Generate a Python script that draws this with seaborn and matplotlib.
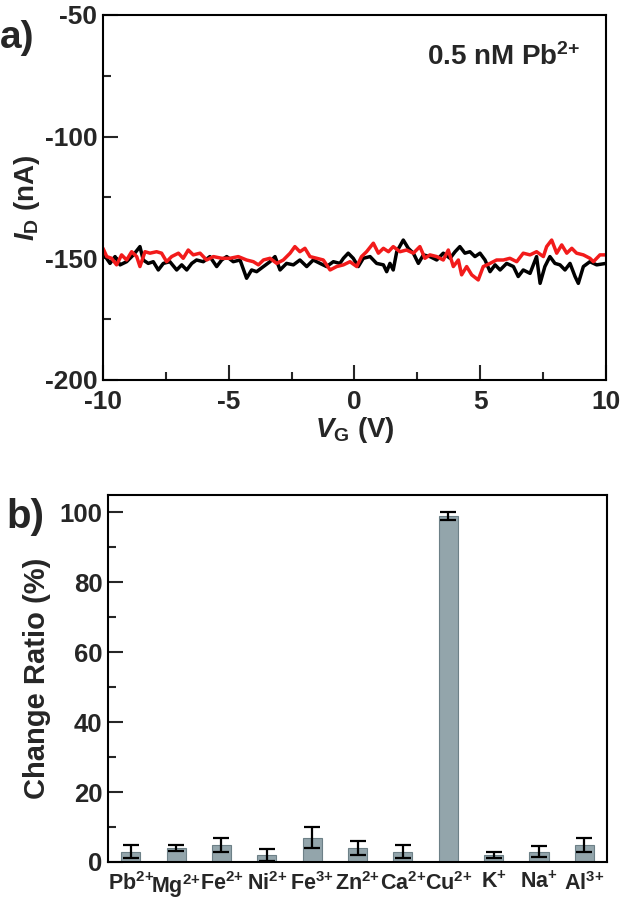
import numpy as np
import pandas as pd
import matplotlib
matplotlib.use("Agg")
import matplotlib.pyplot as plt
from matplotlib.ticker import MultipleLocator
import seaborn as sns

# ---------------- data ----------------
vg_black = [-10.00, -9.72, -9.52, -9.32, -9.06, -8.79, -8.53, -8.40, -8.20, -8.00,
            -7.80, -7.60, -7.34, -7.07, -6.87, -6.67, -6.47, -6.28, -6.01, -5.75,
            -5.48, -5.28, -5.08, -4.82, -4.55, -4.29, -4.09, -3.89, -3.62, -3.36,
            -3.16, -2.96, -2.70, -2.43, -2.17, -1.90, -1.64, -1.37, -1.11, -0.84,
            -0.58, -0.44, -0.25, -0.05, 0.15, 0.35, 0.62, 0.88, 1.15, 1.28,
            1.41, 1.54, 1.68, 1.94, 2.14, 2.34, 2.54, 2.74, 3.00, 3.27,
            3.53, 3.80, 4.00, 4.19, 4.39, 4.59, 4.79, 4.99, 5.19, 5.39,
            5.59, 5.79, 6.05, 6.32, 6.51, 6.71, 6.98, 7.24, 7.38, 7.57,
            7.77, 7.97, 8.17, 8.37, 8.57, 8.77, 8.90, 9.10, 9.36, 9.63, 10.00]
id_black = [-147.9, -152.1, -149.3, -152.7, -151.4, -148.6, -145.2, -150.7, -152.1, -151.4,
            -154.8, -152.1, -151.4, -154.8, -152.7, -154.8, -152.1, -150.7, -151.4, -149.3,
            -153.4, -150.7, -149.3, -151.4, -150.7, -158.2, -154.8, -155.5, -153.4, -151.4,
            -149.3, -154.8, -152.1, -152.7, -150.7, -153.4, -150.7, -152.1, -153.4, -151.4,
            -152.1, -150.0, -147.9, -150.0, -153.4, -150.0, -149.3, -152.1, -152.7, -155.5,
            -152.1, -154.8, -147.3, -142.5, -145.9, -147.9, -152.1, -148.6, -149.3, -150.7,
            -147.9, -150.0, -147.3, -145.2, -147.9, -147.3, -149.3, -147.9, -150.7, -155.5,
            -152.7, -154.8, -152.1, -153.4, -157.5, -154.8, -156.2, -149.3, -160.3, -153.4,
            -149.3, -152.1, -152.7, -154.8, -152.1, -157.5, -160.3, -153.4, -151.4, -152.7, -152.1]

vg_red = [-10.00, -9.85, -9.66, -9.46, -9.26, -9.06, -8.86, -8.66, -8.53, -8.33,
          -8.13, -7.87, -7.67, -7.47, -7.27, -7.00, -6.81, -6.61, -6.41, -6.14,
          -5.88, -5.61, -5.28, -4.95, -4.62, -4.29, -4.02, -3.82, -3.62, -3.36,
          -3.09, -2.83, -2.56, -2.37, -2.17, -1.97, -1.77, -1.50, -1.24, -0.97,
          -0.71, -0.44, -0.18, 0.09, 0.28, 0.48, 0.75, 0.95, 1.15, 1.35,
          1.54, 1.81, 2.07, 2.34, 2.60, 2.80, 3.00, 3.27, 3.53, 3.73,
          3.93, 4.13, 4.26, 4.46, 4.66, 4.92, 5.12, 5.39, 5.65, 5.92,
          6.18, 6.45, 6.71, 6.98, 7.24, 7.51, 7.64, 7.84, 8.04, 8.24,
          8.44, 8.64, 8.83, 9.10, 9.36, 9.50, 9.76, 10.00]
id_red = [-145.9, -149.3, -150.0, -152.7, -148.6, -150.7, -147.3, -149.3, -153.4, -147.3,
          -147.9, -147.3, -147.9, -151.4, -149.3, -147.9, -150.0, -146.6, -148.6, -147.9,
          -150.7, -149.3, -150.0, -150.0, -149.3, -150.7, -151.4, -152.7, -150.7, -150.0,
          -152.1, -150.7, -147.9, -145.2, -147.3, -145.9, -149.3, -150.0, -150.7, -154.8,
          -153.4, -152.7, -151.4, -153.4, -149.3, -147.3, -143.8, -147.9, -145.9, -147.3,
          -145.2, -147.3, -146.6, -147.9, -145.2, -150.0, -148.6, -149.3, -150.7, -146.6,
          -153.4, -150.7, -156.8, -153.4, -156.8, -158.9, -153.4, -152.1, -150.7, -150.7,
          -150.0, -151.4, -147.9, -148.6, -147.3, -149.3, -145.2, -142.5, -147.9, -144.5,
          -147.9, -145.9, -147.9, -148.6, -150.0, -151.4, -148.6, -148.6]

ions = ["Pb2+", "Mg2+", "Fe2+", "Ni2+", "Fe3+", "Zn2+", "Ca2+", "Cu2+", "K+", "Na+", "Al3+"]
ion_labels = [r"Pb$^{2{+}}$", r"Mg$^{2{+}}$", r"Fe$^{2{+}}$", r"Ni$^{2{+}}$",
              r"Fe$^{3{+}}$", r"Zn$^{2{+}}$", r"Ca$^{2{+}}$", r"Cu$^{2{+}}$",
              r"K$^{{+}}$", r"Na$^{{+}}$", r"Al$^{3{+}}$"]
ratio = [3, 4, 5, 2, 7, 4, 3, 99, 2, 3, 5]
ratio_err = [2, 0.9, 2, 1.6, 3, 2, 1.9, 1.05, 1, 1.5, 2]

# ---------------- style ----------------
sns.set_style("white")
plt.rcParams["font.family"] = ["Liberation Sans", "DejaVu Sans"]
plt.rcParams["font.weight"] = "bold"
plt.rcParams["axes.labelweight"] = "bold"
plt.rcParams["axes.unicode_minus"] = False
plt.rcParams["mathtext.fontset"] = "custom"
plt.rcParams["mathtext.rm"] = "Liberation Sans:bold"
plt.rcParams["mathtext.bf"] = "Liberation Sans:bold"
plt.rcParams["mathtext.it"] = "Liberation Sans:italic:bold"
plt.rcParams["mathtext.default"] = "bf"

fig = plt.figure(figsize=(6.23, 9.01), dpi=100)
ax1 = fig.add_axes([0.1653, 0.5783, 0.8074, 0.4051])
ax2 = fig.add_axes([0.1734, 0.0433, 0.8010, 0.4073])

# ---------------- panel a ----------------
df_b = pd.DataFrame({"VG": vg_black, "ID": id_black})
df_r = pd.DataFrame({"VG": vg_red, "ID": id_red})
sns.lineplot(data=df_b, x="VG", y="ID", ax=ax1, color="black", linewidth=2.5,
             estimator=None, sort=False)
sns.lineplot(data=df_r, x="VG", y="ID", ax=ax1, color="#f21b1b", linewidth=2.5,
             estimator=None, sort=False)
ax1.set_xlim(-10, 10)
ax1.set_ylim(-200, -50)
ax1.xaxis.set_major_locator(MultipleLocator(5))
ax1.xaxis.set_minor_locator(MultipleLocator(2.5))
ax1.yaxis.set_major_locator(MultipleLocator(50))
ax1.yaxis.set_minor_locator(MultipleLocator(25))
ax1.tick_params(which="both", direction="in", width=1.5, top=False, right=False,
                bottom=True, left=True)
ax1.tick_params(which="major", length=11, labelsize=19, pad=4)
ax1.tick_params(axis="x", which="major", pad=7)
ax1.tick_params(which="minor", length=6)
for lab in ax1.get_xticklabels() + ax1.get_yticklabels():
    lab.set_fontweight("bold")
ax1.set_xlabel(r"$\mathit{V}_{\mathbf{G}}$ (V)", fontsize=20, labelpad=1)
ax1.set_ylabel(r"$\mathit{I}_{\mathbf{D}}$ (nA)", fontsize=20, labelpad=2)
ax1.text(0.948, 0.863, r"0.5 nM Pb$^{2{+}}$", transform=ax1.transAxes,
         ha="right", va="baseline", fontsize=20, fontweight="bold")
for s in ax1.spines.values():
    s.set_linewidth(1.5)
    s.set_color("black")

# ---------------- panel b ----------------
df_bar = pd.DataFrame({"ion": ions, "ratio": ratio})
sns.barplot(data=df_bar, x="ion", y="ratio", ax=ax2, color="#93a5ab",
            saturation=1, width=0.42, edgecolor="#6d8087", linewidth=0.8,
            errorbar=None)
ax2.errorbar(np.arange(len(ions)), ratio, yerr=ratio_err, fmt="none",
             ecolor="black", elinewidth=1.6, capsize=5.5, capthick=1.6)
ax2.set_xlim(-0.5, len(ions) - 0.5)
ax2.set_ylim(0, 105)
ax2.yaxis.set_major_locator(MultipleLocator(20))
ax2.yaxis.set_minor_locator(MultipleLocator(10))
ax2.set_xticks(np.arange(len(ions)))
ax2.set_xticklabels(ion_labels, fontweight="bold")
ax2.tick_params(axis="x", which="both", length=0, labelsize=15.5, pad=7)
ax2.tick_params(axis="y", which="both", direction="in", width=1.5, left=True)
ax2.tick_params(axis="y", which="major", length=11, labelsize=18.5, pad=4)
ax2.tick_params(axis="y", which="minor", length=6)
for lab in ax2.get_yticklabels():
    lab.set_fontweight("bold")
ax2.set_xlabel("")
ax2.set_ylabel("Change Ratio (%)", fontsize=21, fontweight="bold", labelpad=6)
for s in ax2.spines.values():
    s.set_linewidth(1.5)
    s.set_color("black")

# panel letters
fig.text(0.0, 0.947, "a)", fontsize=28, fontweight="bold", ha="left", va="baseline")
fig.text(0.010, 0.414, "b)", fontsize=29, fontweight="bold", ha="left", va="baseline")

fig.savefig("out.png", dpi=100)
